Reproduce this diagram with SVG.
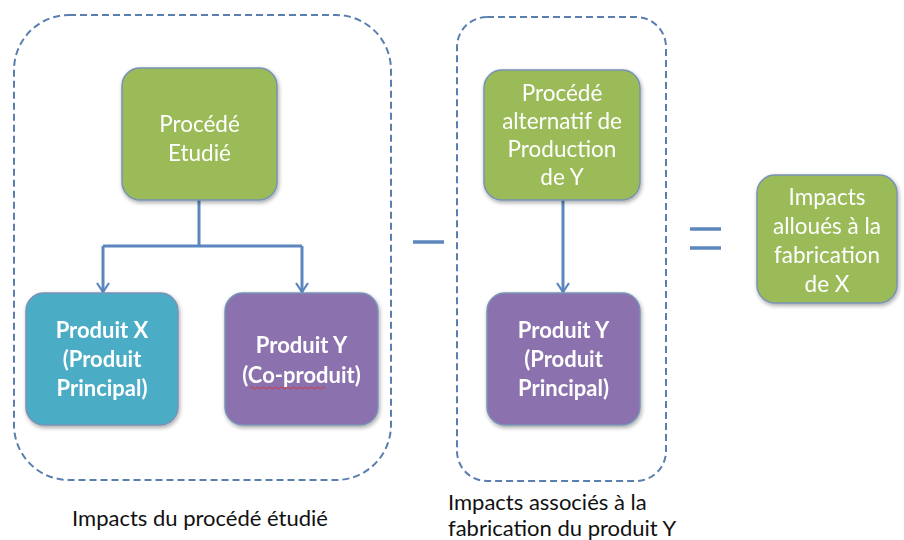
<svg xmlns="http://www.w3.org/2000/svg" width="904" height="540" viewBox="0 0 904 540">
<defs>
<style>
.box{stroke:#7893B6;stroke-width:1.5}
.green{fill:#9BBB59}
.blue{fill:#4BACC6}
.purple{fill:#8B72AE}
.dash{fill:none;stroke:#5A7FAF;stroke-width:2;stroke-dasharray:7 4}
.conn{fill:none;stroke:#5B86BE;stroke-width:3}
.sign{stroke:#5B86BE;stroke-width:3.5;stroke-linecap:butt}
.nt{font-family:Lato,"Open Sans","DejaVu Sans",sans-serif;font-size:22.5px;fill:#ffffff;text-anchor:middle}
.b{font-weight:bold;font-size:22px}
.lbl{font-family:Lato,"Open Sans","DejaVu Sans",sans-serif;font-size:22px;fill:#111111}
</style>
<filter id="sh" x="-10%" y="-10%" width="125%" height="125%">
<feGaussianBlur in="SourceAlpha" stdDeviation="2"/>
<feOffset dx="1" dy="2" result="b"/>
<feComponentTransfer><feFuncA type="linear" slope="0.35"/></feComponentTransfer>
<feMerge><feMergeNode/><feMergeNode in="SourceGraphic"/></feMerge>
</filter>
<marker id="arr" viewBox="0 0 12 14" refX="10" refY="7" markerWidth="12" markerHeight="14" markerUnits="userSpaceOnUse" orient="auto">
<path d="M1,1 L10,7 L1,13" fill="none" stroke="#5B86BE" stroke-width="2.2"/>
</marker>
</defs>
<rect width="904" height="540" fill="#ffffff"/>

<g id="container-left">
<rect class="dash" x="14" y="15" width="377" height="465" rx="55" ry="55"/>
<text class="lbl" x="200" y="526" text-anchor="middle">Impacts du procédé étudié</text>
</g>
<g id="container-middle">
<rect class="dash" x="457" y="17" width="209" height="464" rx="30" ry="30"/>
<text class="lbl" x="448" y="510">Impacts associés à la</text>
<text class="lbl" x="448" y="536">fabrication du produit Y</text>
</g>

<g id="connectors">
<path class="conn" d="M199,200 V246"/>
<path class="conn" d="M103,246 H302"/>
<path class="conn" d="M103,246 V292" marker-end="url(#arr)"/>
<path class="conn" d="M302,246 V292" marker-end="url(#arr)"/>
<path class="conn" d="M563,200 V292" marker-end="url(#arr)"/>
</g>

<g id="minus">
<line class="sign" x1="413" y1="242" x2="444" y2="242"/>
</g>
<g id="equals">
<line class="sign" x1="690" y1="229" x2="721" y2="229"/>
<line class="sign" x1="690" y1="248" x2="721" y2="248"/>
</g>

<g id="procede-etudie" filter="url(#sh)">
<rect class="box green" x="122" y="68" width="155" height="132" rx="18"/>
<text class="nt" x="199.5" y="132">Procédé</text>
<text class="nt" x="199.5" y="161">Etudié</text>
</g>

<g id="produit-x" filter="url(#sh)">
<rect class="box blue" x="26" y="293" width="152" height="132" rx="18"/>
<text class="nt b" x="102" y="338">Produit X</text>
<text class="nt b" x="102" y="367">(Produit</text>
<text class="nt b" x="102" y="396">Principal)</text>
</g>

<g id="produit-y-co" filter="url(#sh)">
<rect class="box purple" x="225" y="293" width="153" height="132" rx="18"/>
<text class="nt b" x="301.5" y="353">Produit Y</text>
<text class="nt b" x="301.5" y="383">(Co-produit)</text>
<path d="M250,388 q1.5,-2 3,0 t3,0 t3,0 t3,0 t3,0 t3,0 t3,0 t3,0 t3,0 t3,0 t3,0 t3,0 t3,0 t3,0 t3,0 t3,0 t3,0 t3,0 t3,0 t3,0 t3,0 t3,0 t3,0 t3,0 t3,0" fill="none" stroke="#d23a3a" stroke-width="1"/>
</g>

<g id="procede-alternatif" filter="url(#sh)">
<rect class="box green" x="484" y="70" width="156" height="130" rx="18"/>
<text class="nt" x="562" y="101">Procédé</text>
<text class="nt" x="562" y="129">alternatif de</text>
<text class="nt" x="562" y="157">Production</text>
<text class="nt" x="562" y="185">de Y</text>
</g>

<g id="produit-y-principal" filter="url(#sh)">
<rect class="box purple" x="487" y="293" width="153" height="132" rx="18"/>
<text class="nt b" x="563.5" y="338">Produit Y</text>
<text class="nt b" x="563.5" y="367">(Produit</text>
<text class="nt b" x="563.5" y="396">Principal)</text>
</g>

<g id="impacts-alloues" filter="url(#sh)">
<rect class="box green" x="757" y="175" width="140" height="128" rx="18"/>
<text class="nt" x="827" y="205">Impacts</text>
<text class="nt" x="827" y="234">alloués à la</text>
<text class="nt" x="827" y="263">fabrication</text>
<text class="nt" x="827" y="292">de X</text>
</g>
</svg>
